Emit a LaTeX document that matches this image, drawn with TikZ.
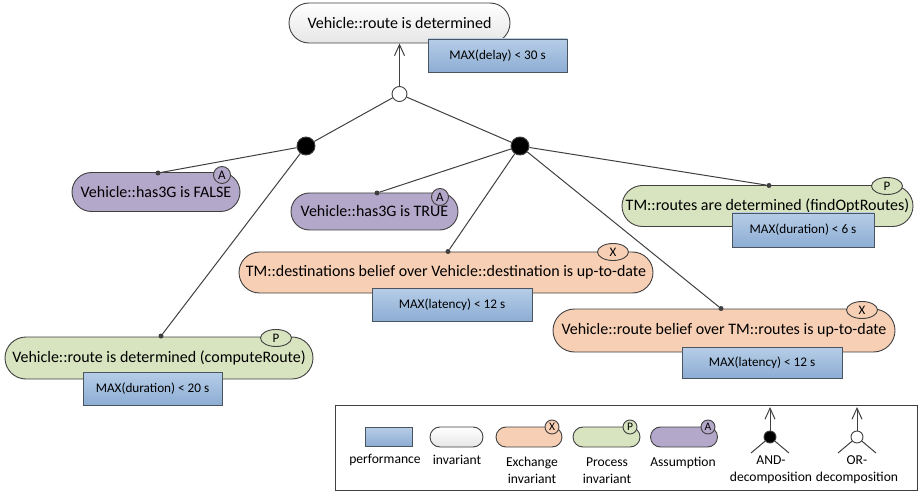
\documentclass[tikz,border=0pt]{standalone}
\usepackage{fontspec}
\setmainfont{Carlito}
\usetikzlibrary{arrows.meta,shapes.geometric,shapes.misc}

\definecolor{linec}{HTML}{404040}
\definecolor{perftop}{HTML}{B6CDE7}
\definecolor{perfbot}{HTML}{8DADD4}
\definecolor{perfline}{HTML}{4A5560}
\definecolor{excfill}{HTML}{F7CFB4}
\definecolor{procfill}{HTML}{D8E3BF}
\definecolor{assfill}{HTML}{B4A8CA}
\definecolor{invbot}{HTML}{E6E6E6}

\tikzset{
  goal/.style={rounded rectangle, draw=linec, line width=0.9pt, inner sep=0pt,
    font=\fontsize{16}{19}\selectfont},
  invgoal/.style={goal, top color=white, bottom color=invbot},
  excgoal/.style={goal, fill=excfill},
  procgoal/.style={goal, fill=procfill},
  assgoal/.style={goal, fill=assfill},
  perf/.style={rectangle, draw=perfline, line width=0.9pt, top color=perftop,
    bottom color=perfbot, inner sep=0pt, font=\fontsize{13.2}{16}\selectfont},
  badge/.style={ellipse, draw=linec, line width=0.9pt, inner sep=0pt,
    minimum width=31pt, minimum height=17pt, font=\fontsize{13}{14}\selectfont},
  abadge/.style={circle, draw=linec, line width=0.9pt, inner sep=0pt,
    minimum size=17pt, font=\fontsize{13}{14}\selectfont},
  lbadge/.style={circle, draw=linec, line width=0.9pt, inner sep=0pt,
    minimum size=14pt, font=\fontsize{11.5}{12}\selectfont},
  anddec/.style={circle, fill=black, draw=linec, line width=0.9pt, inner sep=0pt, minimum size=#1},
  ordec/.style={circle, fill=white, draw=linec, line width=0.9pt, inner sep=0pt, minimum size=#1},
  joint/.style={circle, fill=linec, inner sep=0pt, minimum size=5pt},
  link/.style={draw=linec, line width=1pt},
  uparrow/.style={link, -{Straight Barb[length=11pt,width=10pt,line width=1pt]}},
  legtext/.style={font=\fontsize{13.6}{17}\selectfont, align=center, inner sep=0pt},
}

\begin{document}
\begin{tikzpicture}[x=1pt,y=-1pt]
\useasboundingbox (0,0) rectangle (922,492);

% ---- goal nodes ----
\node[invgoal, minimum width=221pt, minimum height=40pt] (root) at (399.5,23) {Vehicle::route is determined};
\node[assgoal, minimum width=168pt, minimum height=39pt] (g3false) at (156,192) {Vehicle::has3G is FALSE};
\node[assgoal, minimum width=167pt, minimum height=37pt] (g3true) at (374.5,211.5) {Vehicle::has3G is TRUE};
\node[procgoal, minimum width=308pt, minimum height=42pt] (compute) at (159,358) {Vehicle::route is determined (computeRoute)};
\node[procgoal, minimum width=291pt, minimum height=41pt] (findopt) at (767.5,206) {TM::routes are determined (findOptRoutes)};
\node[excgoal, minimum width=414pt, minimum height=41pt] (dest) at (446,272.5) {TM::destinations belief over Vehicle::destination is up-to-date};
\node[excgoal, minimum width=342pt, minimum height=43pt] (rbelief) at (724,330.5) {Vehicle::route belief over TM::routes is up-to-date};

% ---- performance requirements ----
\node[perf, minimum width=139pt, minimum height=33pt] (p0) at (497.5,55.5) {MAX(delay) < 30 s};
\node[perf, minimum width=139pt, minimum height=33pt] (p1) at (152.5,388.5) {MAX(duration) < 20 s};
\node[perf, minimum width=142pt, minimum height=34pt] (p2) at (803,230) {MAX(duration) < 6 s};
\node[perf, minimum width=160pt, minimum height=33pt] (p3) at (452,304.5) {MAX(latency) < 12 s};
\node[perf, minimum width=160pt, minimum height=31pt] (p4) at (762,362.5) {MAX(latency) < 12 s};

% ---- type badges ----
\node[abadge, fill=assfill] (b1) at (222,175) {A};
\node[abadge, fill=assfill] (b2) at (440,197) {A};
\node[badge, fill=procfill] (b3) at (276,338) {P};
\node[badge, fill=procfill] (b4) at (887,186) {P};
\node[badge, fill=excfill] (b5) at (613,252) {X};
\node[badge, fill=excfill] (b6) at (862,310) {X};

% ---- decomposition points ----
\node[ordec=15pt] (orroot) at (399.5,94) {};
\node[anddec=18pt] (andL) at (306,146) {};
\node[anddec=18pt] (andR) at (520,146) {};

% ---- attachment points on goals ----
\node[joint] (jF) at (158,173) {};
\node[joint] (jC) at (161,336) {};
\node[joint] (jT) at (377,193) {};
\node[joint] (jD) at (448,251.5) {};
\node[joint] (jO) at (769,185.5) {};
\node[joint] (jR) at (721,308.5) {};

% ---- connectors ----
\draw[uparrow] (orroot) -- (root);
\draw[link] (orroot) -- (andL);
\draw[link] (orroot) -- (andR);
\draw[link] (andL) -- (jF);
\draw[link] (andL) -- (jC);
\draw[link] (andR) -- (jT);
\draw[link] (andR) -- (jD);
\draw[link] (andR) -- (jO);
\draw[link] (andR) -- (jR);

% ---- legend ----
\node[draw=linec, line width=0.9pt, minimum width=582pt, minimum height=85pt, inner sep=0pt] (legend) at (626,447.5) {};
\node[perf, minimum width=47pt, minimum height=19pt] (lperf) at (388.5,436.5) {};
\node[rounded rectangle, draw=linec, line width=0.9pt, top color=white, bottom color=invbot, minimum width=53pt, minimum height=20pt, inner sep=0pt] (linv) at (456.5,437) {};
\node[rounded rectangle, draw=linec, line width=0.9pt, fill=excfill, minimum width=66pt, minimum height=20pt, inner sep=0pt] (lexc) at (529,437) {};
\node[lbadge, fill=excfill] (lbx) at (552,427) {X};
\node[rounded rectangle, draw=linec, line width=0.9pt, fill=procfill, minimum width=67pt, minimum height=20pt, inner sep=0pt] (lproc) at (606.5,437) {};
\node[lbadge, fill=procfill] (lbp) at (630,427) {P};
\node[rounded rectangle, draw=linec, line width=0.9pt, fill=assfill, minimum width=67pt, minimum height=20pt, inner sep=0pt] (lass) at (684,437) {};
\node[lbadge, fill=assfill] (lba) at (708,427) {A};

\node[anddec=12pt] (land) at (770,437) {};
\coordinate (landtip) at (770,407);
\coordinate (landl) at (751,453);
\coordinate (landr) at (789,453);
\draw[uparrow] (land) -- (landtip);
\draw[link] (land) -- (landl);
\draw[link] (land) -- (landr);

\node[ordec=12pt] (lor) at (857,437) {};
\coordinate (lortip) at (857,407);
\coordinate (lorl) at (838,453);
\coordinate (lorr) at (876,453);
\draw[uparrow] (lor) -- (lortip);
\draw[link] (lor) -- (lorl);
\draw[link] (lor) -- (lorr);

\node[legtext] (tperf) at (385,460) {performance};
\node[legtext] (tinv) at (457,460) {invariant};
\node[legtext] (texc) at (532,470) {Exchange\\invariant};
\node[legtext] (tproc) at (607,471) {Process\\invariant};
\node[legtext] (tass) at (683,463) {Assumption};
\node[legtext] (tand) at (771,470) {AND-\\decomposition};
\node[legtext] (tor) at (857,470) {OR-\\decomposition};
\end{tikzpicture}
\end{document}
